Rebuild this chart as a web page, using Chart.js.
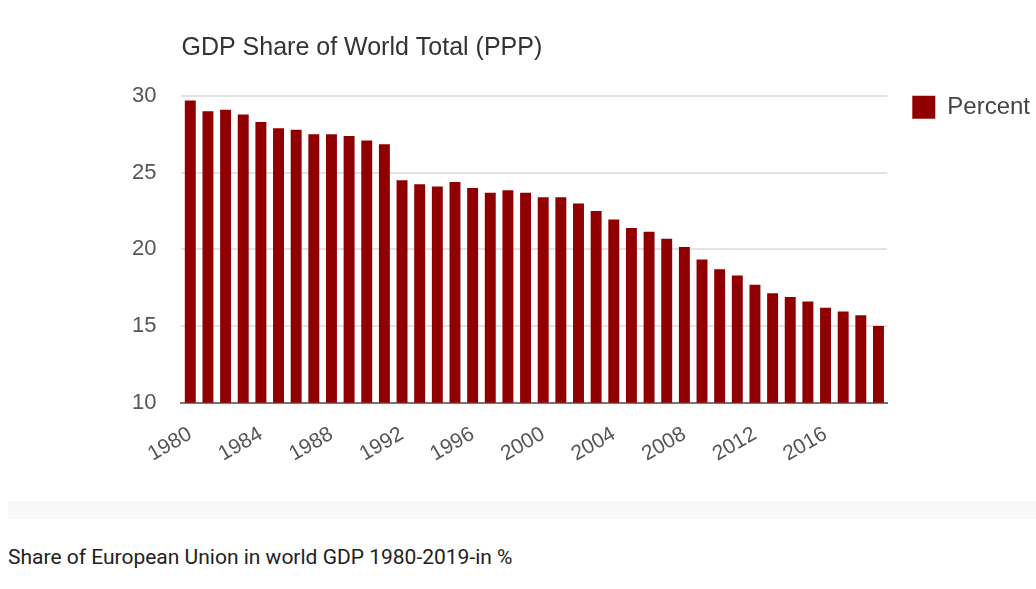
<!DOCTYPE html>
<html>
<head>
<meta charset="utf-8">
<title>GDP Share of World Total (PPP)</title>
<script src="https://cdn.jsdelivr.net/npm/chart.js@4"></script>
<style>
  html, body { margin: 0; padding: 0; background: #fff; overflow: hidden; }
  #chart-box { position: absolute; left: 0; top: 0; width: 1036px; height: 490px; }
  #band { position: absolute; left: 8px; top: 501px; width: 1028px; height: 18px; background: #f8f8f8; }
  #caption { position: absolute; left: 8px; top: 545px; font: 21px Roboto, sans-serif; color: #212121; white-space: nowrap; }
</style>
</head>
<body>
<div id="chart-box"><canvas id="gdp-chart" width="1036" height="490"></canvas></div>
<div id="band"></div>
<div id="caption">Share of European Union in world GDP 1980-2019-in %</div>
<script>
const years = ['1980', '1981', '1982', '1983', '1984', '1985', '1986', '1987', '1988', '1989',
  '1990', '1991', '1992', '1993', '1994', '1995', '1996', '1997', '1998', '1999',
  '2000', '2001', '2002', '2003', '2004', '2005', '2006', '2007', '2008', '2009',
  '2010', '2011', '2012', '2013', '2014', '2015', '2016', '2017', '2018', '2019'];
const percent = [29.7, 29.0, 29.1, 28.8, 28.3, 27.9, 27.8, 27.5, 27.5, 27.4,
  27.1, 26.85, 24.5, 24.25, 24.1, 24.4, 24.0, 23.7, 23.85, 23.7,
  23.4, 23.4, 23.0, 22.5, 21.95, 21.4, 21.15, 20.7, 20.15, 19.35,
  18.7, 18.3, 17.7, 17.15, 16.9, 16.6, 16.2, 15.95, 15.7, 15.0];
const yTicks = [10, 15, 20, 25, 30];

const fontName = '"Liberation Sans", Arial, sans-serif';

new Chart(document.getElementById('gdp-chart'), {
  type: 'bar',
  data: {
    labels: years,
    datasets: [{
      label: 'Percent',
      data: percent,
      backgroundColor: '#910000',
      barPercentage: 0.62,
      categoryPercentage: 1
    }]
  },
  options: {
    responsive: false,
    animation: false,
    layout: { padding: { left: 107, top: 33, right: -4, bottom: 12 } },
    plugins: {
      title: {
        display: true,
        text: 'GDP Share of World Total (PPP)',
        align: 'start',
        fullSize: false,
        color: '#333',
        font: { family: fontName, size: 25, weight: 'normal' },
        padding: { top: 0, bottom: 33 }
      },
      legend: {
        position: 'right',
        align: 'start',
        // empty legend title only pushes the swatch down to the top gridline
        title: { display: true, text: ' ', font: { size: 1 }, padding: { top: 0, bottom: 36 } },
        labels: {
          boxWidth: 23,
          boxHeight: 23,
          padding: 25,
          color: '#444',
          font: { family: fontName, size: 24 }
        }
      },
      tooltip: { enabled: false }
    },
    scales: {
      x: {
        grid: { display: false },
        border: { color: '#777', width: 2 },
        ticks: {
          autoSkip: false,
          minRotation: 30,
          maxRotation: 30,
          padding: 11,
          color: '#555',
          font: { family: fontName, size: 21 },
          callback: function (value, index) {
            return index % 4 === 0 ? years[index] : '';
          }
        }
      },
      y: {
        min: 10,
        max: 30,
        afterBuildTicks: function (axis) {
          axis.ticks = yTicks.map(v => ({ value: v }));
        },
        border: { display: false },
        grid: { color: '#e3e3e3', lineWidth: 2, drawTicks: false },
        ticks: {
          padding: 25,
          color: '#555',
          font: { family: fontName, size: 22 }
        }
      }
    }
  }
});
</script>
</body>
</html>
